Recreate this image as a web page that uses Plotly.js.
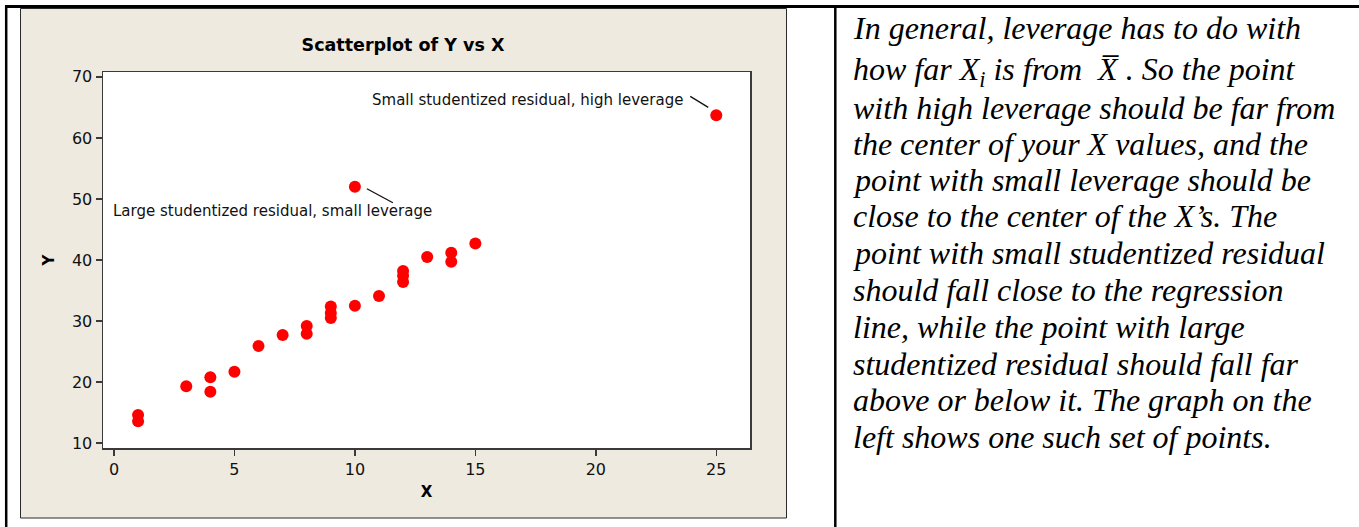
<!DOCTYPE html>
<html>
<head>
<meta charset="utf-8">
<script src="https://cdn.plot.ly/plotly-3.0.1.min.js"></script>
<style>
  html, body { margin: 0; padding: 0; background: #ffffff; }
  #chart { width: 1359px; height: 527px; }
</style>
</head>
<body>
<div id="chart"></div>
<script>
// ---- data ----
const xValues = [1, 1, 3, 4, 4, 5, 6, 7, 8, 8, 9, 9, 9, 10, 11, 12, 12, 12, 13, 14, 14, 15, 10, 25];
const yValues = [14.6, 13.6, 19.3, 20.8, 18.4, 21.7, 25.9, 27.7, 29.2, 27.9, 32.4, 31.3, 30.5, 32.5, 34.1, 38.2, 37.4, 36.4, 40.5, 41.2, 39.7, 42.7, 52.0, 63.7];
const xTicks = [0, 5, 10, 15, 20, 25];
const yTicks = [10, 20, 30, 40, 50, 60, 70];
const chartTitle = 'Scatterplot of Y vs X';
const xTitle = 'X';
const yTitle = 'Y';
const labelHigh = 'Small studentized residual, high leverage';
const labelLarge = 'Large studentized residual, small leverage';
const idxLarge = 22;   // point (10, 52)
const idxHigh = 23;    // point (25, 63.7)
const noteLines = [
  'In general, leverage has to do with',
  'how far X<sub>i</sub> is from  X\u0305 . So the point',
  'with high leverage should be far from',
  'the center of your X values, and the',
  'point with small leverage should be',
  'close to the center of the X\u2019s. The',
  'point with small studentized residual',
  'should fall close to the regression',
  'line, while the point with large',
  'studentized residual should fall far',
  'above or below it. The graph on the',
  'left shows one such set of points.'
];

// ---- layout helpers (pixel -> paper) ----
const W = 1359, H = 527;
const px = v => v / W;
const py = v => 1 - v / H;
const noteRows = [28, 72, 108, 144, 180, 216, 253, 290, 327, 364, 400, 437];

const chartFont = 'DejaVu Sans, Verdana, sans-serif';

const trace = {
  type: 'scatter',
  mode: 'markers',
  x: xValues,
  y: yValues,
  marker: { color: '#ff0000', size: 12, line: { width: 0 } },
  hoverinfo: 'x+y',
  showlegend: false
};

const annotations = [];
// point labels
annotations.push({
  xref: 'x', yref: 'y', x: 23.69, y: 66.2, xanchor: 'right', yanchor: 'middle',
  text: labelHigh, showarrow: false, font: { family: chartFont, size: 15, color: '#111' }
});
annotations.push({
  xref: 'x', yref: 'y', x: -0.12, y: 48.0, xanchor: 'left', yanchor: 'middle',
  text: labelLarge, showarrow: false, font: { family: chartFont, size: 15, color: '#111' }
});
// right-hand text
noteLines.forEach((t, i) => {
  annotations.push({
    xref: 'paper', yref: 'paper', x: px(851), y: py(noteRows[i]),
    xanchor: 'left', yanchor: 'middle', align: 'left', showarrow: false,
    text: '<i>' + t + '</i>',
    font: { family: 'Liberation Serif, Times New Roman, serif', size: 32, color: '#000' }
  });
});

const shapes = [
  // beige chart panel
  { type: 'rect', xref: 'paper', yref: 'paper', x0: px(20.5), x1: px(786.5), y0: py(518), y1: py(8.5),
    fillcolor: '#eeeae0', line: { color: '#2a2a2a', width: 1 }, layer: 'below' },
  // white data region
  { type: 'rect', xref: 'x domain', yref: 'y domain', x0: 0, x1: 1, y0: 0, y1: 1,
    fillcolor: '#ffffff', line: { width: 0 }, layer: 'below' },
  // table borders
  { type: 'line', xref: 'paper', yref: 'paper', x0: px(5), x1: 1, y0: py(6.5), y1: py(6.5),
    line: { color: '#000', width: 3 } },
  { type: 'line', xref: 'paper', yref: 'paper', x0: px(6.2), x1: px(6.2), y0: py(5), y1: 0,
    line: { color: '#000', width: 2.5 } },
  { type: 'line', xref: 'paper', yref: 'paper', x0: px(835.3), x1: px(835.3), y0: py(5), y1: 0,
    line: { color: '#000', width: 2.5 } },
  // leader lines, anchored at the labelled points, offsets in pixels
  { type: 'line', xref: 'x', yref: 'y', xsizemode: 'pixel', ysizemode: 'pixel',
    xanchor: xValues[idxHigh], yanchor: yValues[idxHigh], x0: -26, x1: -8, y0: 19, y1: 8,
    line: { color: '#111', width: 1.3 } },
  { type: 'line', xref: 'x', yref: 'y', xsizemode: 'pixel', ysizemode: 'pixel',
    xanchor: xValues[idxLarge], yanchor: yValues[idxLarge], x0: 12, x1: 38, y0: -2, y1: -16,
    line: { color: '#111', width: 1.3 } }
];

const axisCommon = {
  showline: true, mirror: true, linecolor: '#3a3a3a', linewidth: 1.5,
  ticks: 'outside', ticklen: 6, tickwidth: 1.5, tickcolor: '#3a3a3a',
  showgrid: false, zeroline: false,
  tickfont: { family: chartFont, size: 16, color: '#111' }
};

const layout = {
  width: W, height: H,
  margin: { l: 0, r: 0, t: 0, b: 0, pad: 0 },
  paper_bgcolor: '#ffffff',
  plot_bgcolor: 'rgba(0,0,0,0)',
  showlegend: false,
  title: {
    text: '<b>' + chartTitle + '</b>',
    xref: 'paper', yref: 'paper', x: px(403), y: py(45), xanchor: 'center', yanchor: 'middle',
    font: { family: chartFont, size: 17.5, color: '#000' }
  },
  xaxis: Object.assign({}, axisCommon, {
    domain: [px(103), px(750)],
    range: [-0.456, 26.4],
    tickmode: 'array', tickvals: xTicks, ticktext: xTicks.map(String),
    title: { text: '<b>' + xTitle + '</b>', standoff: 9, font: { family: chartFont, size: 15, color: '#000' } }
  }),
  yaxis: Object.assign({}, axisCommon, {
    domain: [py(448), py(72)],
    range: [9.2, 70.8],
    tickmode: 'array', tickvals: yTicks, ticktext: yTicks.map(String),
    title: { text: '<b>' + yTitle + '</b>', standoff: 13, font: { family: chartFont, size: 15, color: '#000' } }
  }),
  annotations: annotations,
  shapes: shapes
};

Plotly.newPlot('chart', [trace], layout, { staticPlot: true, displayModeBar: false });
</script>
</body>
</html>
